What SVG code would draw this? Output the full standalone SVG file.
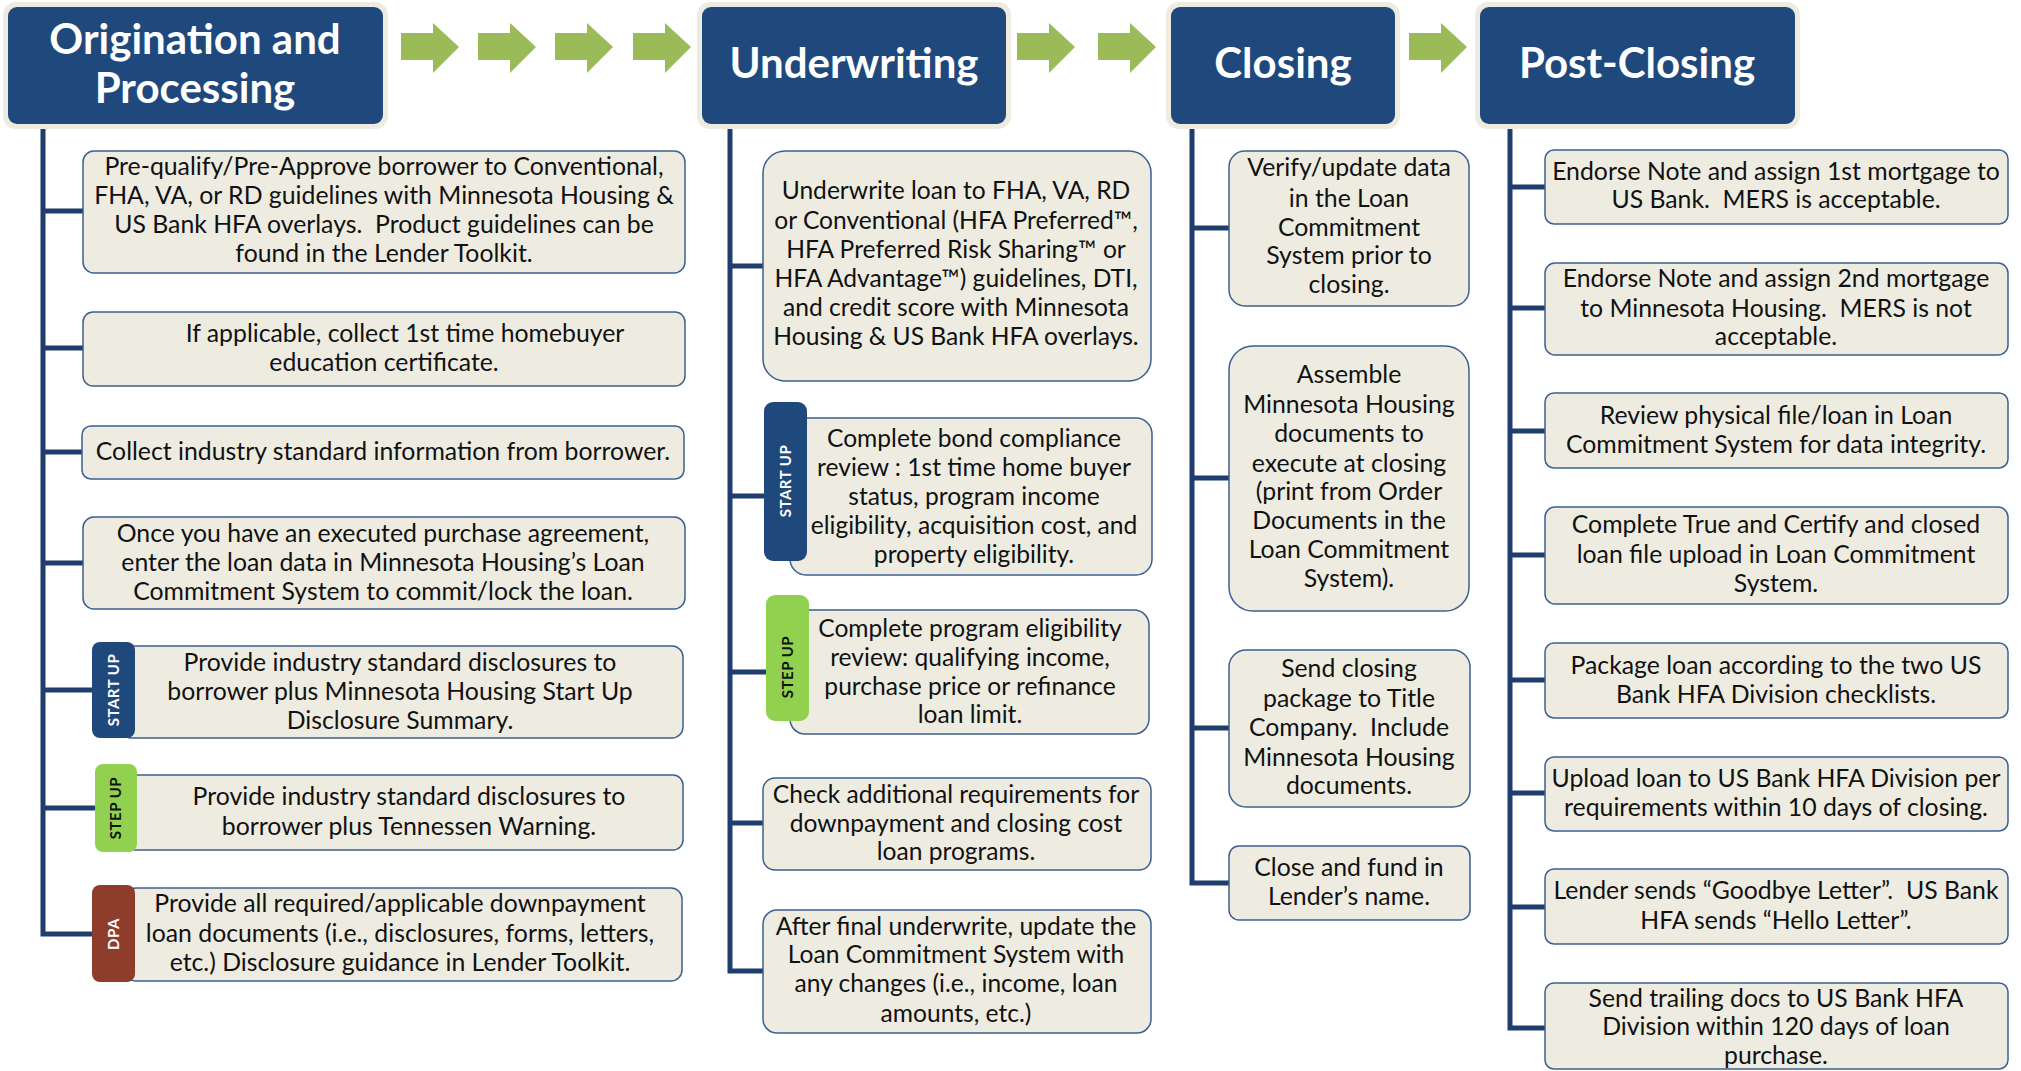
<svg xmlns="http://www.w3.org/2000/svg" width="2021" height="1071" viewBox="0 0 2021 1071">
<defs>
<style>
.hdr-bg{fill:#EEECE1;}
.hdr{fill:#1F497D;}
.hdr-t{font-family:Lato,"Liberation Sans",sans-serif;font-weight:700;font-size:42px;fill:#FFFFFF;text-anchor:middle;}
.box{fill:#EEECE1;stroke:#3C5F92;stroke-width:1.5;}
.t{font-family:Lato,"Liberation Sans",sans-serif;font-size:24.8px;fill:#111111;text-anchor:middle;}
.t2{font-family:Lato,"Liberation Sans",sans-serif;font-size:24.6px;fill:#111111;text-anchor:middle;}
.tab-start{fill:#1F497D;}
.tab-step{fill:#92D050;}
.tab-dpa{fill:#8E3C2C;}
.tab-t{font-family:Lato,"Liberation Sans",sans-serif;font-weight:700;font-size:15px;text-anchor:middle;letter-spacing:0.5px;}
.conn{stroke:#1F3D6E;stroke-width:5;fill:none;stroke-linejoin:miter;stroke-linecap:butt;}
.arrow{fill:#9BBB59;}
</style>
</defs>
<rect width="2021" height="1071" fill="#FFFFFF"/>

<g id="connectors">
  <g id="flow-arrows" class="arrow">
    <path d="M401,33 H433 V23 L459,47 L433,73 V60 H401 Z"/>
    <path d="M478,33 H510 V23 L536,47 L510,73 V60 H478 Z"/>
    <path d="M555,33 H587 V23 L613,47 L587,73 V60 H555 Z"/>
    <path d="M633,33 H665 V23 L691,47 L665,73 V60 H633 Z"/>
    <path d="M1017,33 H1049 V23 L1075,47 L1049,73 V60 H1017 Z"/>
    <path d="M1098,33 H1130 V23 L1156,47 L1130,73 V60 H1098 Z"/>
    <path d="M1409,33 H1441 V23 L1467,47 L1441,73 V60 H1409 Z"/>
  </g>
  <g id="tree-lines" class="conn">
    <path d="M43,124 V934 H92"/>
    <path d="M43,211 H83 M43,348 H83 M43,452 H82 M43,563 H83 M43,690 H92 M43,808 H95"/>
    <path d="M730,124 V971 H763"/>
    <path d="M730,266 H763 M730,496 H764 M730,672 H766 M730,823 H763"/>
    <path d="M1192,124 V883 H1229"/>
    <path d="M1192,228 H1229 M1192,478 H1229 M1192,728 H1229"/>
    <path d="M1510,124 V1028 H1545"/>
    <path d="M1510,187 H1545 M1510,308 H1545 M1510,431 H1545 M1510,555 H1545 M1510,680 H1545 M1510,793 H1545 M1510,907 H1545"/>
  </g>
</g>

<g id="header-origination">
  <rect class="hdr-bg" x="3" y="2" width="385" height="127" rx="13"/>
  <rect class="hdr" x="8" y="7" width="375" height="117" rx="9"/>
  <text class="hdr-t" x="195" y="54">Origination and</text>
  <text class="hdr-t" x="195" y="103">Processing</text>
</g>
<g id="header-underwriting">
  <rect class="hdr-bg" x="697" y="2" width="314" height="127" rx="13"/>
  <rect class="hdr" x="702" y="7" width="304" height="117" rx="9"/>
  <text class="hdr-t" x="854" y="78">Underwriting</text>
</g>
<g id="header-closing">
  <rect class="hdr-bg" x="1166" y="2" width="234" height="127" rx="13"/>
  <rect class="hdr" x="1171" y="7" width="224" height="117" rx="9"/>
  <text class="hdr-t" x="1283" y="78">Closing</text>
</g>
<g id="header-postclosing">
  <rect class="hdr-bg" x="1475" y="2" width="325" height="127" rx="13"/>
  <rect class="hdr" x="1480" y="7" width="315" height="117" rx="9"/>
  <text class="hdr-t" x="1637" y="78">Post-Closing</text>
</g>

<!-- Column 1 -->
<g id="o1">
  <rect class="box" x="83" y="151" width="602" height="122" rx="11"/>
  <text class="t" x="384" y="175">Pre-qualify/Pre-Approve borrower to Conventional,</text>
  <text class="t" x="384" y="204">FHA, VA, or RD guidelines with Minnesota Housing &amp;</text>
  <text class="t" x="384" y="233">US Bank HFA overlays.&#160; Product guidelines can be</text>
  <text class="t" x="384" y="262">found in the Lender Toolkit.</text>
</g>
<g id="o2">
  <rect class="box" x="83" y="312" width="602" height="74" rx="10"/>
  <text class="t" x="405" y="342">If applicable, collect 1st time homebuyer</text>
  <text class="t" x="384" y="371">education certificate.</text>
</g>
<g id="o3">
  <rect class="box" x="82" y="426" width="602" height="53" rx="9"/>
  <text class="t" x="383" y="460">Collect industry standard information from borrower.</text>
</g>
<g id="o4">
  <rect class="box" x="83" y="517" width="602" height="92" rx="11"/>
  <text class="t" x="383" y="542">Once you have an executed purchase agreement,</text>
  <text class="t" x="383" y="571">enter the loan data in Minnesota Housing’s Loan</text>
  <text class="t" x="383" y="600">Commitment System to commit/lock the loan.</text>
</g>
<g id="o5">
  <rect class="box" x="120" y="646" width="563" height="92" rx="11"/>
  <rect class="tab-start" x="92" y="642" width="43" height="96" rx="8"/>
  <text class="tab-t" fill="#FFFFFF" transform="translate(119,690) rotate(-90)">START UP</text>
  <text class="t" x="400" y="671">Provide industry standard disclosures to</text>
  <text class="t" x="400" y="700">borrower plus Minnesota Housing Start Up</text>
  <text class="t" x="400" y="729">Disclosure Summary.</text>
</g>
<g id="o6">
  <rect class="box" x="125" y="775" width="558" height="75" rx="10"/>
  <rect class="tab-step" x="95" y="764" width="42" height="88" rx="8"/>
  <text class="tab-t" fill="#111111" transform="translate(121,808) rotate(-90)">STEP UP</text>
  <text class="t" x="409" y="805">Provide industry standard disclosures to</text>
  <text class="t" x="409" y="835">borrower plus Tennessen Warning.</text>
</g>
<g id="o7">
  <rect class="box" x="125" y="888" width="557" height="93" rx="11"/>
  <rect class="tab-dpa" x="92" y="885" width="43" height="97" rx="8"/>
  <text class="tab-t" fill="#FFFFFF" transform="translate(119,934) rotate(-90)">DPA</text>
  <text class="t" x="400" y="912">Provide all required/applicable downpayment</text>
  <text class="t" x="400" y="942">loan documents (i.e., disclosures, forms, letters,</text>
  <text class="t" x="400" y="971">etc.) Disclosure guidance in Lender Toolkit.</text>
</g>

<!-- Column 2 -->
<g id="u1">
  <rect class="box" x="763" y="151" width="388" height="230" rx="22"/>
  <text class="t2" x="956" y="199">Underwrite loan to FHA, VA, RD</text>
  <text class="t2" x="956" y="229">or Conventional (HFA Preferred™,</text>
  <text class="t2" x="956" y="258">HFA Preferred Risk Sharing™ or</text>
  <text class="t2" x="956" y="287">HFA Advantage™) guidelines, DTI,</text>
  <text class="t2" x="956" y="316">and credit score with Minnesota</text>
  <text class="t2" x="956" y="345">Housing &amp; US Bank HFA overlays.</text>
</g>
<g id="u2">
  <rect class="box" x="790" y="418" width="362" height="157" rx="16"/>
  <rect class="tab-start" x="764" y="402" width="43" height="159" rx="9"/>
  <text class="tab-t" fill="#FFFFFF" transform="translate(791,481) rotate(-90)">START UP</text>
  <text class="t2" x="974" y="447">Complete bond compliance</text>
  <text class="t2" x="974" y="476">review : 1st time home buyer</text>
  <text class="t2" x="974" y="505">status, program income</text>
  <text class="t2" x="974" y="534">eligibility, acquisition cost, and</text>
  <text class="t2" x="974" y="563">property eligibility.</text>
</g>
<g id="u3">
  <rect class="box" x="790" y="610" width="359" height="124" rx="15"/>
  <rect class="tab-step" x="766" y="595" width="43" height="126" rx="9"/>
  <text class="tab-t" fill="#111111" transform="translate(793,667) rotate(-90)">STEP UP</text>
  <text class="t2" x="970" y="637">Complete program eligibility</text>
  <text class="t2" x="970" y="666">review: qualifying income,</text>
  <text class="t2" x="970" y="695">purchase price or refinance</text>
  <text class="t2" x="970" y="723">loan limit.</text>
</g>
<g id="u4">
  <rect class="box" x="763" y="778" width="388" height="92" rx="12"/>
  <text class="t2" x="956" y="803">Check additional requirements for</text>
  <text class="t2" x="956" y="832">downpayment and closing cost</text>
  <text class="t2" x="956" y="860">loan programs.</text>
</g>
<g id="u5">
  <rect class="box" x="763" y="910" width="388" height="123" rx="14"/>
  <text class="t2" x="956" y="935">After final underwrite, update the</text>
  <text class="t2" x="956" y="963">Loan Commitment System with</text>
  <text class="t2" x="956" y="992">any changes (i.e., income, loan</text>
  <text class="t2" x="956" y="1022">amounts, etc.)</text>
</g>

<!-- Column 3 -->
<g id="c1">
  <rect class="box" x="1229" y="151" width="240" height="155" rx="16"/>
  <text class="t" x="1349" y="176">Verify/update data</text>
  <text class="t" x="1349" y="207">in the Loan</text>
  <text class="t" x="1349" y="236">Commitment</text>
  <text class="t" x="1349" y="264">System prior to</text>
  <text class="t" x="1349" y="293">closing.</text>
</g>
<g id="c2">
  <rect class="box" x="1229" y="346" width="240" height="265" rx="24"/>
  <text class="t" x="1349" y="383">Assemble</text>
  <text class="t" x="1349" y="413">Minnesota Housing</text>
  <text class="t" x="1349" y="442">documents to</text>
  <text class="t" x="1349" y="472">execute at closing</text>
  <text class="t" x="1349" y="500">(print from Order</text>
  <text class="t" x="1349" y="529">Documents in the</text>
  <text class="t" x="1349" y="558">Loan Commitment</text>
  <text class="t" x="1349" y="587">System).</text>
</g>
<g id="c3">
  <rect class="box" x="1229" y="650" width="241" height="157" rx="17"/>
  <text class="t" x="1349" y="677">Send closing</text>
  <text class="t" x="1349" y="707">package to Title</text>
  <text class="t" x="1349" y="736">Company.&#160; Include</text>
  <text class="t" x="1349" y="766">Minnesota Housing</text>
  <text class="t" x="1349" y="794">documents.</text>
</g>
<g id="c4">
  <rect class="box" x="1229" y="846" width="241" height="74" rx="10"/>
  <text class="t" x="1349" y="876">Close and fund in</text>
  <text class="t" x="1349" y="905">Lender’s name.</text>
</g>

<!-- Column 4 -->
<g id="p1">
  <rect class="box" x="1545" y="150" width="463" height="74" rx="9"/>
  <text class="t" x="1776" y="180">Endorse Note and assign 1st mortgage to</text>
  <text class="t" x="1776" y="208">US Bank.&#160; MERS is acceptable.</text>
</g>
<g id="p2">
  <rect class="box" x="1545" y="263" width="463" height="92" rx="10"/>
  <text class="t" x="1776" y="287">Endorse Note and assign 2nd mortgage</text>
  <text class="t" x="1776" y="317">to Minnesota Housing.&#160; MERS is not</text>
  <text class="t" x="1776" y="345">acceptable.</text>
</g>
<g id="p3">
  <rect class="box" x="1545" y="393" width="463" height="75" rx="9"/>
  <text class="t" x="1776" y="424">Review physical file/loan in Loan</text>
  <text class="t" x="1776" y="453">Commitment System for data integrity.</text>
</g>
<g id="p4">
  <rect class="box" x="1545" y="507" width="463" height="97" rx="10"/>
  <text class="t" x="1776" y="533">Complete True and Certify and closed</text>
  <text class="t" x="1776" y="563">loan file upload in Loan Commitment</text>
  <text class="t" x="1776" y="592">System.</text>
</g>
<g id="p5">
  <rect class="box" x="1545" y="643" width="463" height="75" rx="9"/>
  <text class="t" x="1776" y="674">Package loan according to the two US</text>
  <text class="t" x="1776" y="703">Bank HFA Division checklists.</text>
</g>
<g id="p6">
  <rect class="box" x="1545" y="757" width="463" height="74" rx="9"/>
  <text class="t" x="1776" y="787">Upload loan to US Bank HFA Division per</text>
  <text class="t" x="1776" y="816">requirements within 10 days of closing.</text>
</g>
<g id="p7">
  <rect class="box" x="1545" y="869" width="463" height="75" rx="9"/>
  <text class="t" x="1776" y="899">Lender sends “Goodbye Letter”.&#160; US Bank</text>
  <text class="t" x="1776" y="929">HFA sends “Hello Letter”.</text>
</g>
<g id="p8">
  <rect class="box" x="1545" y="983" width="463" height="86" rx="9"/>
  <text class="t" x="1776" y="1007">Send trailing docs to US Bank HFA</text>
  <text class="t" x="1776" y="1035">Division within 120 days of loan</text>
  <text class="t" x="1776" y="1064">purchase.</text>
</g>
</svg>
